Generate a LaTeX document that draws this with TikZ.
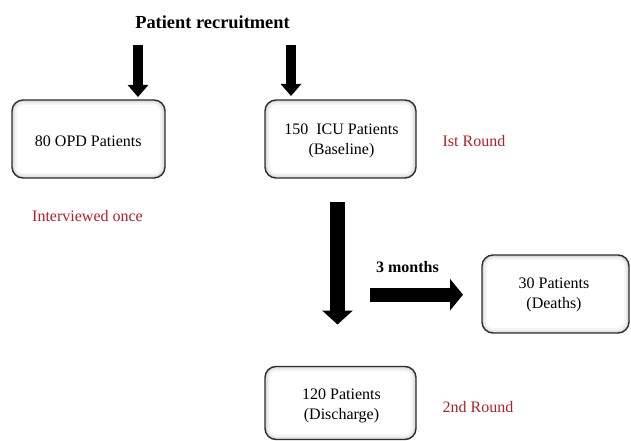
\documentclass[tikz,border=0pt]{standalone}
\usepackage{fontspec}
\setmainfont{Liberation Serif}
\usetikzlibrary{arrows.meta}
\definecolor{roundred}{RGB}{176,32,40}
\definecolor{boxborder}{RGB}{45,45,45}
\begin{document}
\begin{tikzpicture}[x=1pt,y=-1pt,
  font=\fontsize{16}{19.5}\selectfont,
  patbox/.style={draw=boxborder, line width=1.4pt, rounded corners=11pt,
    fill=white, align=center, inner sep=0pt,
    path picture={
      \foreach \w/\o in {10/0.04,6/0.05,3/0.07}{
        \draw[line width=\w pt, black, opacity=\o, rounded corners=11pt]
          (path picture bounding box.south west) rectangle (path picture bounding box.north east);}
    }},
  redlabel/.style={text=roundred, inner sep=0pt},
  blackarrow/.style={line width=#1, black},
]
\useasboundingbox (0,0) rectangle (631,441);

% title
\node[font=\fontsize{18.4}{22}\selectfont\bfseries, inner sep=0pt] (title) at (212.5,22.5) {Patient recruitment};

% boxes
\node[patbox, minimum width=153pt, minimum height=78pt] (opd) at (88.5,139) {};
\node[inner sep=0pt] (opdtext) at (88.3,141) {80 OPD Patients};
\node[patbox, minimum width=151pt, minimum height=78pt] (icu) at (340.5,139) {};
\node[inner sep=0pt, align=center] (icutext) at (341.5,141) {150\ \ ICU Patients\\(Baseline)};
\node[patbox, minimum width=147pt, minimum height=78pt] (death) at (555.5,294) {};
\node[inner sep=0pt, align=center] (deathtext) at (554,295) {30 Patients\\(Deaths)};
\node[patbox, minimum width=151pt, minimum height=73pt] (disch) at (340.5,403) {};
\node[inner sep=0pt, align=center] (dischtext) at (341.5,406) {120 Patients\\(Discharge)};

% labels
\node[redlabel] (interv) at (87.5,216) {Interviewed once};
\node[redlabel] (round1) at (474,141) {Ist Round};
\node[redlabel] (round2) at (478,407) {2nd Round};
\node[font=\fontsize{16}{19.5}\selectfont\bfseries, inner sep=0pt] (months) at (407.5,267.5) {3 months};

% arrow end points
\coordinate (a1s) at (138,45);
\coordinate (a1e) at (138,97);
\coordinate (a2s) at (291,45);
\coordinate (a2e) at (291,96);
\coordinate (a3s) at (337.5,202);
\coordinate (a3e) at (337.5,324.5);
\coordinate (a4s) at (370,294.7);
\coordinate (a4e) at (463,294.7);

\draw[blackarrow=10.8pt, -{Triangle[width=20pt,length=12pt]}] (a1s) -- (a1e);
\draw[blackarrow=10.8pt, -{Triangle[width=20pt,length=12pt]}] (a2s) -- (a2e);
\draw[blackarrow=15pt, -{Triangle[width=30pt,length=14pt]}] (a3s) -- (a3e);
\draw[blackarrow=14pt, -{Triangle[width=31pt,length=13pt]}] (a4s) -- (a4e);
\end{tikzpicture}
\end{document}
